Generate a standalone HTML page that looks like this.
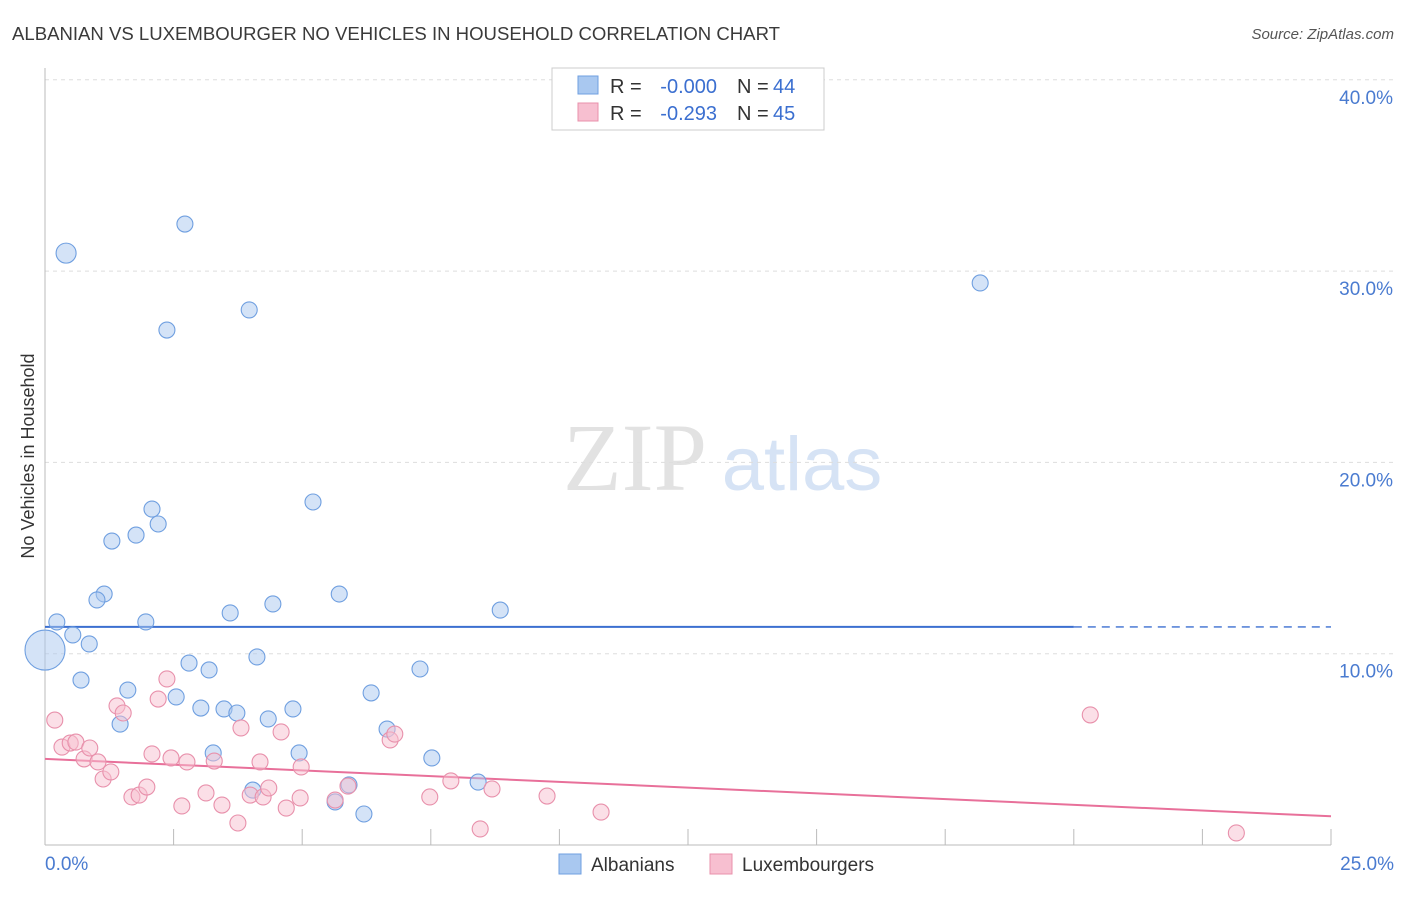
<!DOCTYPE html>
<html><head><meta charset="utf-8"><style>
body{margin:0;background:#fff;font-family:"Liberation Sans",sans-serif}
</style></head><body>
<svg id="chart" width="1406" height="892" xmlns="http://www.w3.org/2000/svg" style="font-family:'Liberation Sans',sans-serif">
<text x="12" y="40" font-size="18" fill="#3a3a3a" textLength="768" lengthAdjust="spacingAndGlyphs">ALBANIAN VS LUXEMBOURGER NO VEHICLES IN HOUSEHOLD CORRELATION CHART</text>
<text x="1394" y="39" font-size="15" fill="#555" text-anchor="end" font-style="italic">Source: ZipAtlas.com</text>
<text transform="translate(34,456) rotate(-90)" font-size="18" fill="#333" text-anchor="middle">No Vehicles in Household</text>
<g>
<text x="635" y="490" font-size="96" fill="#e2e2e2" font-family="'Liberation Serif',serif" text-anchor="middle">ZIP</text>
<text x="802" y="490" font-size="76" fill="#d6e3f5" text-anchor="middle">atlas</text>
</g>
<g id="grid"></g>
<g id="axes"></g>
<g id="trend"></g>
<g id="points"></g>
<g>
<rect x="552" y="68" width="272" height="62" fill="#fff" stroke="#ccc"/>
<rect x="578" y="76" width="20" height="18" fill="#a9c8f0" stroke="#6f9fe0"/>
<rect x="578" y="103" width="20" height="18" fill="#f7bfd0" stroke="#e890ab"/>
<text x="610" y="93" font-size="20" fill="#333">R =</text>
<text x="717" y="93" font-size="20" fill="#3b6fd0" text-anchor="end">-0.000</text>
<text x="737" y="93" font-size="20" fill="#333">N =</text>
<text x="773" y="93" font-size="20" fill="#3b6fd0">44</text>
<text x="610" y="120" font-size="20" fill="#333">R =</text>
<text x="717" y="120" font-size="20" fill="#3b6fd0" text-anchor="end">-0.293</text>
<text x="737" y="120" font-size="20" fill="#333">N =</text>
<text x="773" y="120" font-size="20" fill="#3b6fd0">45</text>
</g>
<g>
<rect x="559" y="854" width="22" height="20" fill="#a9c8f0" stroke="#6f9fe0"/>
<text x="591" y="871" font-size="19" fill="#333">Albanians</text>
<rect x="710" y="854" width="22" height="20" fill="#f7bfd0" stroke="#e890ab"/>
<text x="742" y="871" font-size="19" fill="#333">Luxembourgers</text>
</g>
</svg>
<script>
const yTicks=[10,20,30,40];
const yTickLabels=["10.0%","20.0%","30.0%","40.0%"];
const xTicks=[0,2.5,5,7.5,10,12.5,15,17.5,20,22.5,25];
const xEndLabels=["0.0%","25.0%"];
const blueX=[0.41,2.72,2.37,3.97,18.18,5.21,2.08,2.20,1.30,1.77,1.15,1.01,5.72,4.43,3.60,8.85,1.96,0.23,0.54,0.86,0,2.80,3.19,4.12,7.29,0.70,1.61,2.55,6.34,3.03,3.48,3.73,4.82,1.46,4.34,6.65,3.27,4.94,7.52,8.42,5.91,4.04,5.64,6.20];
const blueY=[30.94,32.46,26.92,27.97,29.38,17.93,17.56,16.78,15.89,16.20,13.12,12.81,13.12,12.60,12.13,12.28,11.66,11.66,10.98,10.51,10.19,9.51,9.15,9.83,9.20,8.62,8.10,7.74,7.95,7.16,7.11,6.90,7.11,6.32,6.59,6.06,4.81,4.81,4.55,3.29,3.14,2.87,2.25,1.62];
const pinkX=[0.19,0.33,0.49,0.60,0.76,0.87,1.03,1.13,1.28,1.40,1.52,1.69,1.83,1.98,2.08,2.20,2.37,2.45,2.66,2.76,3.13,3.29,3.44,3.75,3.81,3.99,4.18,4.24,4.35,4.59,4.69,4.96,4.98,5.89,6.71,6.80,7.48,7.89,8.46,8.69,9.76,10.81,20.32,23.16,5.64];
const pinkY=[6.53,5.12,5.33,5.38,4.50,5.07,4.34,3.45,3.82,7.27,6.90,2.51,2.61,3.03,4.76,7.63,8.68,4.55,2.04,4.34,2.72,4.39,2.09,1.15,6.12,2.61,4.34,2.51,2.98,5.91,1.93,2.46,4.08,3.08,5.49,5.80,2.51,3.35,0.84,2.93,2.56,1.72,6.80,0.63,2.35];
const blueTrend=[11.4,11.4];
const pinkTrend=[4.5,1.5];
const X0=45,X1=1331,Y0=845,YP=19.13;
const sx=v=>X0+v/25*(X1-X0), sy=v=>Y0-v*YP;
const NS="http://www.w3.org/2000/svg";
function mk(tag,attrs,parent){const e=document.createElementNS(NS,tag);for(const k in attrs)e.setAttribute(k,attrs[k]);parent.appendChild(e);return e;}
const grid=document.getElementById('grid'),axes=document.getElementById('axes'),trend=document.getElementById('trend'),pts=document.getElementById('points');
yTicks.forEach((t,i)=>{
 const l=mk('line',{x1:X0,x2:1395,y1:sy(t),y2:sy(t),stroke:'#ddd','stroke-dasharray':'4,4'},grid);
 
 
 const tx=mk('text',{x:1393,y:sy(t)+24,'font-size':19,fill:'#4a7bd0','text-anchor':'end'},axes);
 tx.textContent=yTickLabels[i];
 
 
});
const ya=mk('line',{x1:X0,x2:X0,y1:68,y2:Y0,stroke:'#bbb'},axes);


const xa=mk('line',{x1:X0,x2:X1,y1:Y0,y2:Y0,stroke:'#bbb'},axes);


xTicks.forEach(t=>{
 const l=mk('line',{x1:sx(t),x2:sx(t),y1:Y0,y2:Y0-16,stroke:'#bbb'},axes);
 
 
});
[[0,'start',X0],[1,'end',1394]].forEach(([i,a,x])=>{
 const tx=mk('text',{x:x,y:870,'font-size':19,fill:'#4a7bd0','text-anchor':a},axes);
 tx.textContent=xEndLabels[i];
 
 
});
function dot(x,y,r,fill,stroke,name){
 const c=mk('circle',{cx:sx(x),cy:sy(y),r:r,fill:fill,'fill-opacity':0.5,stroke:stroke,'stroke-width':1.1},pts);
 
 
}
blueX.forEach((x,i)=>dot(x,blueY[i],i===20?20:(i===0?10:8),'#a9c8f0','#6f9fe0','albanian-point'));
pinkX.forEach((x,i)=>dot(x,pinkY[i],8,'#f7bfd0','#e890ab','luxembourger-point'));
const bt=mk('line',{x1:sx(0),y1:sy(blueTrend[0]),x2:sx(20),y2:sy(blueTrend[0]+(blueTrend[1]-blueTrend[0])*0.8),stroke:'#3b6fd0','stroke-width':2},trend);


const bd=mk('line',{x1:sx(20),y1:sy(blueTrend[0]+(blueTrend[1]-blueTrend[0])*0.8),x2:sx(25),y2:sy(blueTrend[1]),stroke:'#3b6fd0','stroke-width':1.3,'stroke-dasharray':'8,6'},trend);


const pt=mk('line',{x1:sx(0),y1:sy(pinkTrend[0]),x2:sx(25),y2:sy(pinkTrend[1]),stroke:'#e8709a','stroke-width':2},trend);


</script>
</body></html>
